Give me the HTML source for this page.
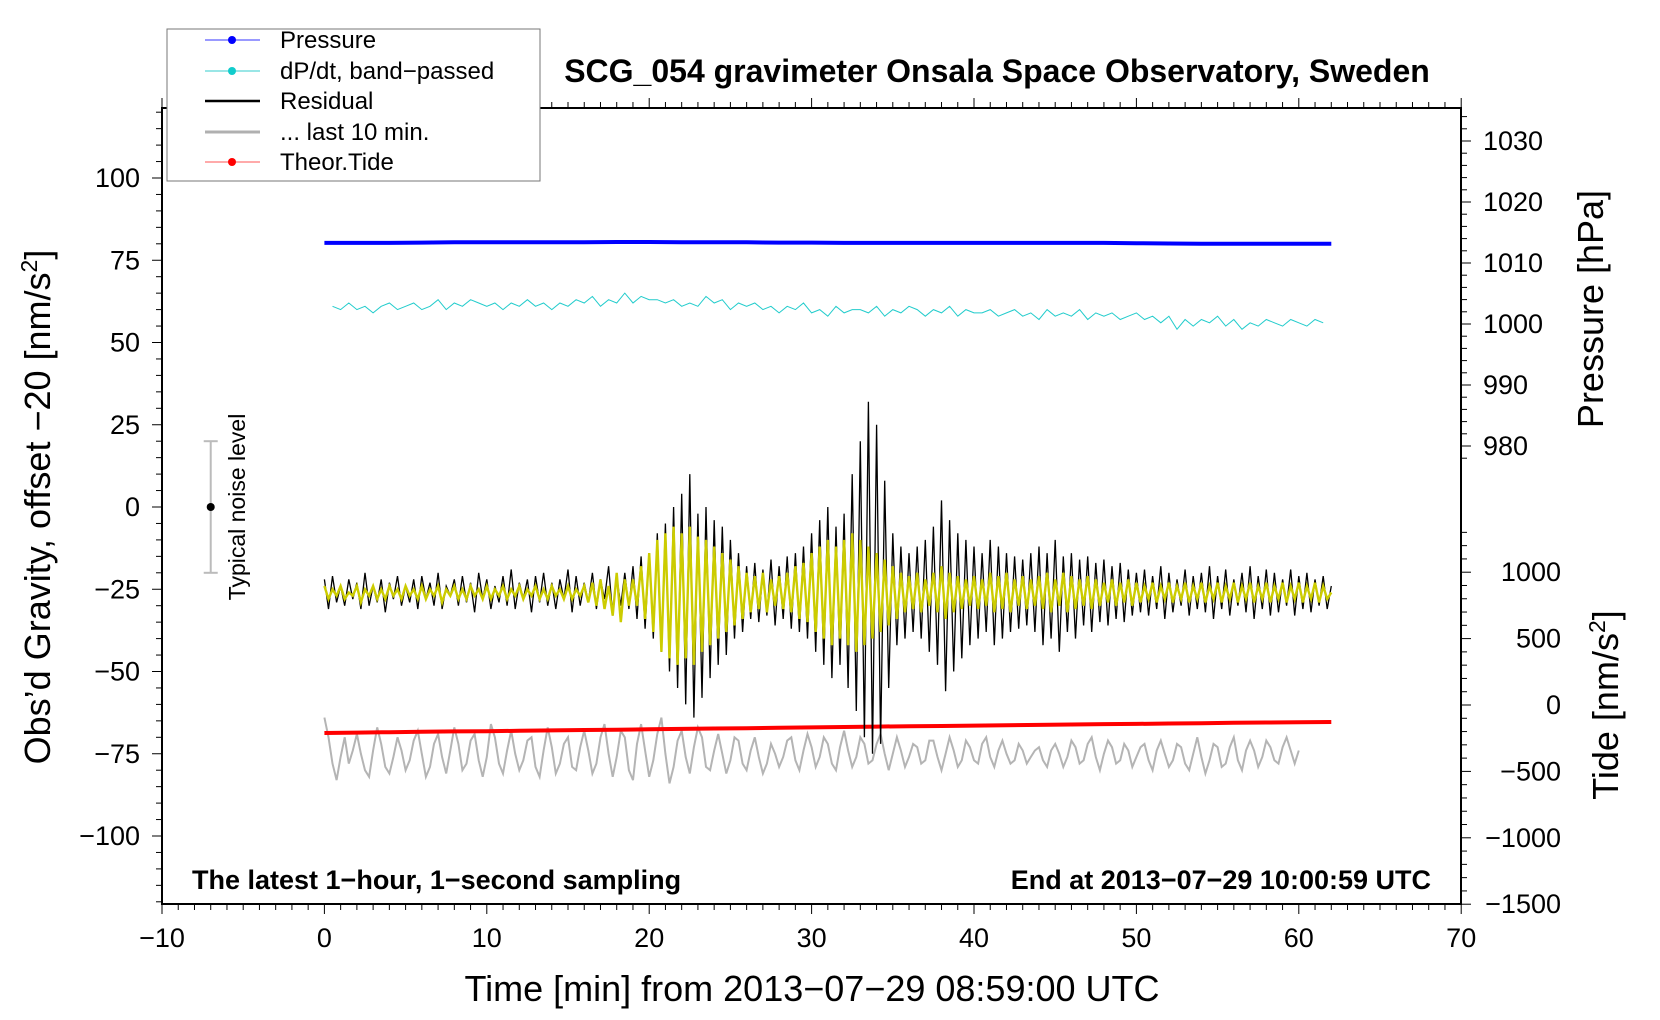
<!DOCTYPE html>
<html><head><meta charset="utf-8"><style>
html,body{margin:0;padding:0;background:#fff;}
svg{display:block;font-family:"Liberation Sans",Arial,sans-serif;}
</style></head><body>
<svg id="chart" width="1660" height="1020" viewBox="0 0 1660 1020" xmlns="http://www.w3.org/2000/svg">
<defs><clipPath id="plotclip"><rect x="162" y="108" width="1299" height="796"/></clipPath></defs>
<rect x="0" y="0" width="1660" height="1020" fill="#fff"/>
<text x="997" y="82" font-size="32" font-weight="bold" text-anchor="middle">SCG_054 gravimeter Onsala Space Observatory, Sweden</text>
<g id="series" clip-path="url(#plotclip)"></g>
<rect x="162" y="108" width="1299" height="796" fill="none" stroke="#000" stroke-width="2"/>
<g id="axes"></g>
<text transform="translate(50,507) rotate(-90)" font-size="36" text-anchor="middle">Obs’d Gravity, offset −20 [nm/s<tspan dy="-13" font-size="23">2</tspan><tspan dy="13">]</tspan></text>
<text transform="translate(1603,309) rotate(-90)" font-size="36" text-anchor="middle">Pressure [hPa]</text>
<text transform="translate(1618,705) rotate(-90)" font-size="36" text-anchor="middle">Tide [nm/s<tspan dy="-13" font-size="23">2</tspan><tspan dy="13">]</tspan></text>
<text x="812" y="1001" font-size="36" text-anchor="middle">Time [min] from 2013−07−29 08:59:00 UTC</text>
<text x="192" y="889" font-size="27" font-weight="bold">The latest 1−hour, 1−second sampling</text>
<text x="1431" y="889" font-size="27" font-weight="bold" text-anchor="end">End at 2013−07−29 10:00:59 UTC</text>
<text transform="translate(245,507) rotate(-90)" font-size="23" text-anchor="middle">Typical noise level</text>
<g>
<rect x="167" y="29" width="373" height="152" fill="#fff" stroke="#777" stroke-width="1"/>
<g><line x1="205" y1="40" x2="260" y2="40" stroke="#3333ff" stroke-width="1"/><circle cx="232" cy="40" r="4" fill="#0000ff"/><text x="280" y="48" font-size="24">Pressure</text></g>
<g><line x1="205" y1="71" x2="260" y2="71" stroke="#33cccc" stroke-width="1"/><circle cx="232" cy="71" r="4" fill="#11cccc"/><text x="280" y="79" font-size="24">dP/dt, band−passed</text></g>
<g><line x1="205" y1="101" x2="260" y2="101" stroke="#000" stroke-width="2.5"/><text x="280" y="109" font-size="24">Residual</text></g>
<g><line x1="205" y1="132" x2="260" y2="132" stroke="#b0b0b0" stroke-width="3"/><text x="280" y="140" font-size="24">... last 10 min.</text></g>
<g><line x1="205" y1="162" x2="260" y2="162" stroke="#ff5555" stroke-width="1"/><circle cx="232" cy="162" r="4" fill="#ff0000"/><text x="280" y="170" font-size="24">Theor.Tide</text></g>
</g>
</svg>
<script>
const residStep = 0.25;
const residual = [-22,-31,-21,-29,-24,-30,-22,-28,-23,-31,-20,-30,-24,-29,-22,-32,-23,-28,-21,-30,
-24,-29,-22,-31,-21,-28,-23,-30,-20,-31,-24,-27,-22,-30,-21,-29,-23,-32,-20,-28,
-22,-31,-24,-29,-21,-30,-19,-31,-23,-28,-22,-32,-21,-29,-20,-30,-23,-31,-22,-28,
-19,-32,-21,-30,-23,-29,-20,-31,-22,-28,-18,-33,-21,-30,-20,-31,
-18,-34,-15,-37,-14,-40,-8,-44,-5,-50,0,-55,4,-60,10,-64,-2,-58,0,-52,-4,-48,-6,-45,-10,-40,-14,-38,
-18,-34,-17,-35,-19,-33,-16,-36,-18,-34,-15,-37,-14,-38,-12,-40,
-8,-44,-4,-48,0,-52,-6,-48,-2,-55,10,-62,20,-70,32,-75,25,-72,8,-55,-8,-42,-12,-40,
-14,-38,-12,-40,-10,-44,-6,-48,2,-56,-4,-50,-8,-46,-10,-42,-12,-40,-14,-38,-10,-42,-12,-40,-14,-38,-15,-37,-16,-36,-14,-38,
-12,-42,-14,-40,-10,-44,-15,-38,-14,-40,-16,-36,-15,-38,-17,-35,-16,-36,-18,-34,-17,-35,-19,-33,
-20,-32,-19,-33,-21,-31,-18,-34,-20,-32,-22,-30,-19,-33,-21,-31,-20,-32,-18,-34,-21,-31,-19,-33,-22,-30,-20,-32,-18,-34,-21,-31,-19,-33,-20,-32,-22,-30,-19,-33,-21,-31,-20,-32,-22,-30,-21,-31,-24];
const filtered = [-24,-28,-25,-27,-24,-28,-26,-27,-24,-29,
-25,-27,-24,-28,-25,-28,-24,-27,-25,-28,
-24,-27,-25,-28,-24,-28,-25,-27,-24,-29,
-25,-27,-24,-28,-25,-28,-24,-27,-25,-28,
-24,-28,-25,-27,-24,-28,-25,-27,-24,-28,
-25,-27,-24,-28,-25,-28,-24,-27,-25,-28,
-24,-28,-25,-27,-24,-29,-23,-30,-22,-31,
-24,-33,-20,-35,-22,-30,
-22,-30,-18,-34,-14,-38,-10,-44,-8,-46,-6,-48,-8,-46,-6,-48,-9,-44,-10,-42,-12,-40,-14,-38,-16,-36,-18,-34,
-20,-32,-21,-31,-20,-32,-22,-30,-21,-31,-20,-32,-18,-34,-17,-35,
-14,-38,-12,-40,-10,-42,-12,-40,-10,-42,-8,-44,-10,-42,-12,-40,-14,-38,-16,-36,-18,-34,-20,-32,
-21,-31,-20,-32,-22,-30,-20,-32,-18,-34,-20,-32,-21,-31,-22,-30,-21,-31,-22,-30,-20,-32,-21,-31,-20,-32,-22,-30,-21,-31,-22,-30,
-21,-31,-20,-32,-22,-30,-20,-32,-21,-31,-22,-30,-21,-31,-22,-30,-23,-29,-22,-30,-23,-29,-22,-30,
-23,-29,-24,-28,-23,-29,-24,-28,-23,-29,-24,-28,-23,-29,-24,-28,-23,-29,-24,-28,-23,-29,-24,-28,
-23,-29,-24,-28,-23,-29,-24,-28,-23,-29,-24,-28,-23,-29,-24,-28,-23,-29,-24,-28,-23,-29,-24,-28,-26];
const last10Step = 0.25;
const last10 = [-64,-70,-78,-83,-76,-70,-78,-74,-69,-75,-80,-82,-74,-67,-72,-79,-81,-76,-70,-74,
-80,-77,-71,-68,-75,-82,-79,-72,-69,-76,-81,-74,-67,-72,-80,-78,-71,-69,-77,-82,
-76,-66,-70,-78,-81,-74,-68,-75,-80,-77,-71,-70,-79,-82,-74,-67,-73,-81,-78,-72,
-70,-79,-80,-73,-68,-74,-81,-78,-70,-66,-75,-82,-76,-68,-70,-80,-83,-72,-66,-74,
-82,-77,-69,-64,-75,-84,-79,-71,-68,-76,-81,-73,-67,-70,-79,-80,-74,-69,-75,-81,
-77,-70,-71,-78,-80,-74,-70,-76,-81,-78,-72,-75,-79,-76,-71,-70,-77,-80,-74,-69,
-73,-79,-76,-70,-72,-78,-80,-73,-68,-74,-79,-76,-70,-72,-78,-77,-72,-69,-75,-80,
-75,-70,-74,-79,-76,-72,-73,-78,-77,-71,-71,-76,-80,-75,-70,-74,-79,-77,-71,-73,
-77,-78,-72,-70,-76,-79,-74,-71,-75,-78,-77,-72,-74,-78,-76,-74,-73,-77,-79,-74,
-72,-75,-79,-76,-71,-73,-78,-77,-72,-70,-76,-80,-75,-71,-73,-78,-77,-72,-74,-79,
-76,-73,-72,-77,-80,-74,-71,-75,-79,-77,-72,-73,-78,-80,-75,-70,-76,-81,-77,-72,
-73,-79,-78,-73,-70,-77,-80,-74,-71,-74,-79,-76,-71,-73,-77,-78,-73,-70,-74,-78,-74];
const dpdtStart = 0.5, dpdtStep = 0.5;
const dpdt = [61,60,62,60,61,59,61,62,60,61,62,60,61,63,60,62,61,63,62,61,
62,60,62,61,63,61,62,60,62,61,63,62,64,61,63,62,65,62,64,63,
63,62,63,61,62,61,64,62,63,60,62,61,62,60,61,59,61,60,62,59,
60,58,61,59,60,60,59,61,58,60,59,61,60,58,60,59,61,58,60,59,
59,60,58,59,60,58,59,57,60,58,59,58,60,57,59,58,59,57,58,59,
57,58,56,58,54,57,55,57,56,58,55,57,54,56,55,57,56,55,57,56,55,57,56];
const slowStep = 2;
const pressure = [1013.3,1013.3,1013.3,1013.35,1013.4,1013.4,1013.4,1013.4,1013.4,1013.45,1013.45,1013.4,1013.4,1013.4,1013.35,1013.35,1013.3,1013.3,1013.3,1013.3,1013.3,1013.3,1013.3,1013.3,1013.3,1013.25,1013.2,1013.15,1013.15,1013.15,1013.15,1013.15];
const tide = [-211,-208,-205,-202,-199,-197,-194,-191,-188,-186,-183,-180,-177,-175,-172,-169,-166,-163,-160,-158,-155,-152,-150,-147,-144,-142,-139,-137,-134,-132,-130,-128];
const xTicks = [-10,0,10,20,30,40,50,60,70];
const leftTicks = [-100,-75,-50,-25,0,25,50,75,100];
const pressureTicks = [980,990,1000,1010,1020,1030];
const tideTicks = [-1500,-1000,-500,0,500,1000];
const noiseBar = [-7, 0, 20];

const NS = "http://www.w3.org/2000/svg";
const X = t => 324.4 + t * 16.24;
const YL = v => 507 - v * 3.29;
const YP = p => 141 + (1030 - p) * 6.1;
const YT = n => 705 - n * 0.1328;
const series = document.getElementById('series');
const axes = document.getElementById('axes');
function mk(tag, attrs, parent) {
  const e = document.createElementNS(NS, tag);
  for (const k in attrs) e.setAttribute(k, attrs[k]);
  parent.appendChild(e);
  return e;
}
function pathFrom(vals, t0, dt, yf) {
  return vals.map((v, i) => (i ? 'L' : 'M') + X(t0 + i * dt).toFixed(1) + ' ' + yf(v).toFixed(1)).join('');
}
let p;
p = mk('path', {d: pathFrom(pressure, 0, slowStep, YP), fill: 'none', stroke: '#0000ff', 'stroke-width': 4}, series);


p = mk('path', {d: pathFrom(dpdt, dpdtStart, dpdtStep, YL), fill: 'none', stroke: '#22cccc', 'stroke-width': 1}, series);


p = mk('path', {d: pathFrom(last10, 0, last10Step, YL), fill: 'none', stroke: '#b4b4b4', 'stroke-width': 2}, series);


p = mk('path', {d: pathFrom(tide, 0, slowStep, YT), fill: 'none', stroke: '#ff0000', 'stroke-width': 4}, series);


p = mk('path', {d: pathFrom(residual, 0, residStep, YL), fill: 'none', stroke: '#000', 'stroke-width': 1.3}, series);


p = mk('path', {d: pathFrom(filtered, 0, residStep, YL), fill: 'none', stroke: '#cccc00', 'stroke-width': 2.4}, series);



const nb = mk('g', {}, series);


const nx = X(noiseBar[0]);
mk('line', {x1: nx, x2: nx, y1: YL(noiseBar[1] + noiseBar[2]), y2: YL(noiseBar[1] - noiseBar[2]), stroke: '#bbb', 'stroke-width': 2}, nb);
mk('line', {x1: nx - 7, x2: nx + 7, y1: YL(noiseBar[2]), y2: YL(noiseBar[2]), stroke: '#bbb', 'stroke-width': 2}, nb);
mk('line', {x1: nx - 7, x2: nx + 7, y1: YL(-noiseBar[2]), y2: YL(-noiseBar[2]), stroke: '#bbb', 'stroke-width': 2}, nb);
mk('circle', {cx: nx, cy: YL(noiseBar[1]), r: 4, fill: '#000'}, nb);

for (let t = -10; t <= 70; t++) {
  const major = t % 10 === 0;
  const len = major ? 10 : 6;
  mk('line', {x1: X(t), x2: X(t), y1: 904, y2: 904 + len, stroke: '#000', 'stroke-width': 1}, axes);
  mk('line', {x1: X(t), x2: X(t), y1: 108, y2: 108 - len, stroke: '#000', 'stroke-width': 1}, axes);
}
xTicks.forEach(t => {
  const e = mk('text', {x: X(t), y: 947, 'font-size': 27, 'text-anchor': 'middle'}, axes);
  e.textContent = String(t).replace('-', '−');
  
  
});
for (let v = -120; v <= 120; v += 5) {
  const major = v % 25 === 0;
  mk('line', {x1: 162, x2: 162 - (major ? 10 : 6), y1: YL(v), y2: YL(v), stroke: '#000', 'stroke-width': 1}, axes);
}
leftTicks.forEach(v => {
  const e = mk('text', {x: 140, y: YL(v) + 9, 'font-size': 27, 'text-anchor': 'end'}, axes);
  e.textContent = String(v).replace('-', '−');
  
  
});
for (let pv = 976; pv <= 1036; pv += 2) {
  const y = YP(pv);
  if (y < 108 || y > 470) continue;
  const major = pv % 10 === 0;
  mk('line', {x1: 1461, x2: 1461 + (major ? 10 : 6), y1: y, y2: y, stroke: '#000', 'stroke-width': 1}, axes);
}
pressureTicks.forEach(pv => {
  const e = mk('text', {x: 1483, y: YP(pv) + 9, 'font-size': 27}, axes);
  e.textContent = String(pv);
  
  
});
for (let n = -1500; n <= 1400; n += 100) {
  const y = YT(n);
  if (y < 520 || y > 905) continue;
  const major = n % 500 === 0;
  mk('line', {x1: 1461, x2: 1461 + (major ? 10 : 6), y1: y, y2: y, stroke: '#000', 'stroke-width': 1}, axes);
}
tideTicks.forEach(n => {
  const e = mk('text', {x: 1561, y: YT(n) + 9, 'font-size': 27, 'text-anchor': 'end'}, axes);
  e.textContent = String(n).replace('-', '−');
  
  
});
</script>
</body></html>
